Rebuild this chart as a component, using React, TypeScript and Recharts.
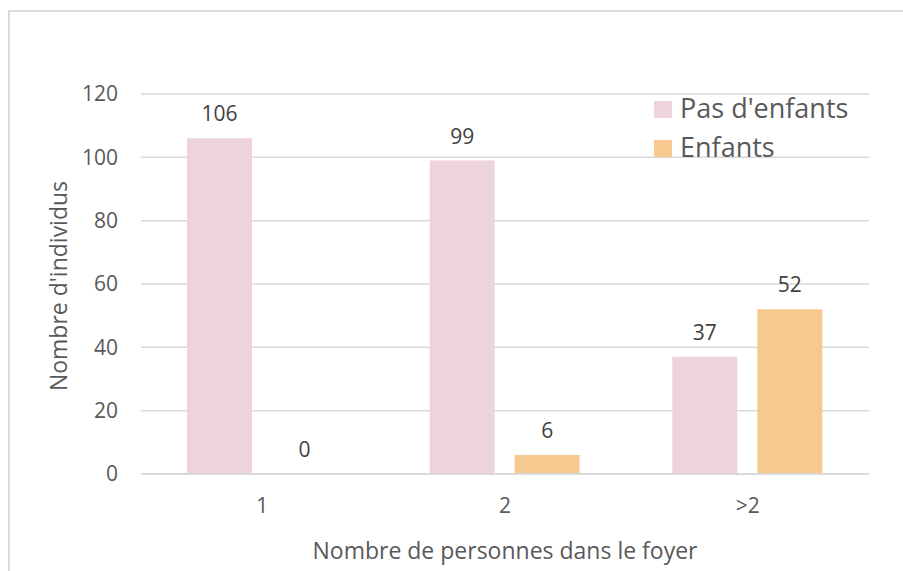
import React from "react";
import { BarChart, Bar, XAxis, YAxis, CartesianGrid, Legend, LabelList, Label } from "recharts";

const categories = ["1", "2", ">2"];
const pasEnfants = [106, 99, 37];
const enfants = [0, 6, 52];
const yTicks = [0, 20, 40, 60, 80, 100, 120];
const seriesNames = ["Pas d'enfants", "Enfants"];

const data = categories.map((c, i) => ({ foyer: c, pas: pasEnfants[i], enf: enfants[i] }));

const FONT = "'Open Sans', sans-serif";
const GREY = "#595959";

function LegendBox({ payload }: any) {
  // keep series order (recharts sorts the payload by name)
  const items = [...(payload || [])].sort(
    (a: any, b: any) => seriesNames.indexOf(a.value) - seriesNames.indexOf(b.value)
  );
  return (
    <div style={{ fontFamily: FONT, fontSize: 27, color: GREY }}>
      {items.map((p: any) => (
        <div key={p.value} style={{ display: "flex", alignItems: "flex-start", height: 39, lineHeight: "39px" }}>
          <span style={{ width: 18, height: 17, marginTop: 13, marginRight: 8, background: p.color, flex: "none" }} />
          <span style={{ whiteSpace: "nowrap" }}>{p.value}</span>
        </div>
      ))}
    </div>
  );
}

// value label drawn above the bar, also for a zero bar
function TopLabel(props: any) {
  const { x, y, width, value } = props;
  if (x == null || y == null) return null;
  return (
    <text x={x + width / 2} y={y - 17} textAnchor="middle" fill="#404040" fontSize={21} fontFamily={FONT}>
      {String(value)}
    </text>
  );
}

export default function App() {
  return (
    <div style={{ position: "absolute", left: 0, top: 0, width: 903, height: 571, overflow: "hidden", background: "#fff" }}>
      {/* chart frame, cut off at right and bottom like the reference */}
      <div
        style={{
          position: "absolute",
          left: 8,
          top: 10,
          width: 1000,
          height: 700,
          borderTop: "2px solid #dadada",
          borderLeft: "2px solid #dadada",
        }}
      />
      <div style={{ position: "absolute", left: 0, top: 0 }}>
        <BarChart
          width={903}
          height={571}
          data={data}
          margin={{ top: 94, right: 34, left: 81, bottom: 67 }}
          barSize={65}
          barGap={20}
          style={{ fontFamily: FONT }}
        >
          <CartesianGrid vertical={false} stroke="#d9d9d9" strokeWidth={1.5} />
          <XAxis
            dataKey="foyer"
            axisLine={{ stroke: "#d9d9d9", strokeWidth: 2 }}
            tickLine={false}
            tickMargin={18}
            tick={{ fill: GREY, fontSize: 21 }}
          >
            <Label
              value="Nombre de personnes dans le foyer"
              position="bottom"
              offset={39}
              fill={GREY}
              fontSize={23}
            />
          </XAxis>
          <YAxis
            width={60}
            domain={[0, 120]}
            ticks={yTicks}
            axisLine={false}
            tickLine={false}
            tickMargin={17}
            tick={{ fill: GREY, fontSize: 21 }}
          >
            <Label
              content={({ viewBox }: any) => {
                const cy = viewBox.y + viewBox.height / 2 + 2;
                return (
                  <text
                    x={67}
                    y={cy}
                    transform={`rotate(-90, 67, ${cy})`}
                    textAnchor="middle"
                    fill={GREY}
                    fontSize={23}
                    fontFamily={FONT}
                  >
                    Nombre d'individus
                  </text>
                );
              }}
            />
          </YAxis>
          <Legend
            layout="vertical"
            align="center"
            verticalAlign="middle"
            wrapperStyle={{ top: 88, left: 654, width: 240 }}
            content={<LegendBox />}
          />
          <Bar dataKey="pas" name="Pas d'enfants" fill="#edd3dc" isAnimationActive={false}>
            <LabelList dataKey="pas" content={<TopLabel />} />
          </Bar>
          {/* tiny minPointSize so the zero bar still gets its "0" label */}
          <Bar dataKey="enf" name="Enfants" fill="#f7c98e" minPointSize={0.01} isAnimationActive={false}>
            <LabelList dataKey="enf" content={<TopLabel />} />
          </Bar>
        </BarChart>
      </div>
    </div>
  );
}
